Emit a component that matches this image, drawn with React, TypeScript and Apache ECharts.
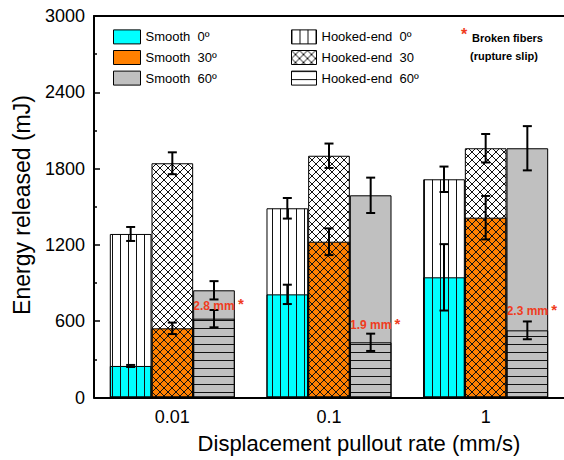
import React, { useEffect, useRef } from "react";
import * as echarts from "echarts";

const categories = ["0.01", "0.1", "1"];
const smoothNames = ["Smooth  0º", "Smooth  30º", "Smooth  60º"];
const hookedNames = ["Hooked-end  0º", "Hooked-end  30", "Hooked-end  60º"];

const smooth0 = [248, 811, 945];
const smooth0Err = [8, 76, 261];
const smooth30 = [544, 1225, 1414];
const smooth30Err = [45, 105, 171];
const smooth60 = [843, 1590, 1960];
const smooth60Err = [72, 139, 174];

const hooked0 = [1286, 1488, 1716];
const hooked0Err = [55, 81, 100];
const hooked30 = [1842, 1901, 1960];
const hooked30Err = [86, 96, 112];
const hooked60 = [620, 434, 528];
const hooked60Err = [68, 68, 70];

const slipLabels = ["2.8 mm", "1.9 mm", "2.3 mm"];
const slipLabelValue = [722, 570, 678];

const yMin = 0;
const yMax = 3000;
const yInterval = 600;

const FONT = "Liberation Sans, Arial, sans-serif";
const RED = "#f03c1e";
const BAR_RATIO = 0.266;

function makePattern(kind: string) {
  const c = document.createElement("canvas");
  const s = 8;
  c.width = s;
  c.height = s;
  const ctx = c.getContext("2d")!;
  ctx.strokeStyle = "#111";
  ctx.lineWidth = 1;
  ctx.beginPath();
  if (kind === "v") {
    ctx.moveTo(0.5, 0);
    ctx.lineTo(0.5, s);
  } else if (kind === "h") {
    ctx.moveTo(0, 0.5);
    ctx.lineTo(s, 0.5);
  } else {
    ctx.moveTo(-1, -1);
    ctx.lineTo(s + 1, s + 1);
    ctx.moveTo(s + 1, -1);
    ctx.lineTo(-1, s + 1);
  }
  ctx.stroke();
  return { image: c, repeat: "repeat" } as any;
}

export default function App() {
  const ref = useRef<HTMLDivElement>(null);
  useEffect(() => {
    if (!ref.current) return;
    const chart = echarts.init(ref.current, null, { renderer: "svg" });

    const smoothVals = [smooth0, smooth30, smooth60];
    const smoothErrs = [smooth0Err, smooth30Err, smooth60Err];
    const hookedVals = [hooked0, hooked30, hooked60];
    const hookedErrs = [hooked0Err, hooked30Err, hooked60Err];
    const smoothColors = ["#00ffff", "#ff8000", "#c0c0c0"];
    const patterns = [makePattern("v"), makePattern("x"), makePattern("h")];

    const errData: number[][] = [];
    for (let k = 0; k < 3; k++) {
      for (let i = 0; i < categories.length; i++) {
        errData.push([i, smoothVals[k][i], smoothErrs[k][i], k]);
        errData.push([i, hookedVals[k][i], hookedErrs[k][i], k]);
      }
    }

    const barCommon = {
      type: "bar",
      barWidth: BAR_RATIO * 100 + "%",
      barGap: "0%",
      yAxisIndex: 0,
    };

    const series: any[] = [];
    for (let k = 0; k < 3; k++) {
      series.push({
        ...barCommon,
        name: smoothNames[k],
        xAxisIndex: 0,
        data: smoothVals[k],
        itemStyle: { color: smoothColors[k], borderColor: "#000", borderWidth: 1 },
      });
    }
    for (let k = 0; k < 3; k++) {
      series.push({
        ...barCommon,
        name: hookedNames[k],
        xAxisIndex: 1,
        data: hookedVals[k],
        itemStyle: { color: patterns[k], borderColor: "#000", borderWidth: 1 },
      });
    }
    series.push({
      type: "custom",
      xAxisIndex: 0,
      yAxisIndex: 0,
      z: 10,
      clip: false,
      data: errData,
      renderItem: (params: any, api: any) => {
        const cat = api.value(0);
        const v = api.value(1);
        const e = api.value(2);
        const slot = api.value(3);
        const band = api.size([1, 0])[0];
        const cx = api.coord([cat, v])[0] + (slot - 1) * band * BAR_RATIO;
        const yt = api.coord([cat, v + e])[1];
        const yb = api.coord([cat, v - e])[1];
        const hw = 4.5;
        const st = { stroke: "#000", lineWidth: 2 };
        return {
          type: "group",
          children: [
            { type: "line", shape: { x1: cx, y1: yt, x2: cx, y2: yb }, style: st },
            { type: "line", shape: { x1: cx - hw, y1: yt, x2: cx + hw, y2: yt }, style: st },
            { type: "line", shape: { x1: cx - hw, y1: yb, x2: cx + hw, y2: yb }, style: st },
          ],
        };
      },
    });
    series.push({
      type: "custom",
      xAxisIndex: 0,
      yAxisIndex: 0,
      z: 11,
      clip: false,
      data: categories.map((_, i) => [i, slipLabelValue[i]]),
      renderItem: (params: any, api: any) => {
        const cat = api.value(0);
        const v = api.value(1);
        const band = api.size([1, 0])[0];
        const pt = api.coord([cat, v]);
        const cx = pt[0] + band * BAR_RATIO;
        const right = cx + (band * BAR_RATIO) / 2;
        return {
          type: "group",
          children: [
            {
              type: "text",
              x: cx,
              y: pt[1],
              style: {
                text: slipLabels[params.dataIndex],
                fill: RED,
                font: "bold 12px " + FONT,
                align: "center",
                verticalAlign: "middle",
              },
            },
            {
              type: "text",
              x: right + 6,
              y: pt[1] - 2,
              style: {
                text: "*",
                fill: RED,
                font: "bold 15px " + FONT,
                align: "center",
                verticalAlign: "middle",
              },
            },
          ],
        };
      },
    });

    const legendCommon = {
      orient: "vertical",
      top: 24.4,
      itemHeight: 14,
      itemGap: 5.6,
      icon: "rect",
      selectedMode: false,
      itemStyle: { borderColor: "#000", borderWidth: 1 },
      textStyle: { fontSize: 13, fontFamily: FONT, color: "#000" },
    };

    chart.setOption({
      animation: false,
      textStyle: { fontFamily: FONT },
      grid: { left: 94, top: 16, right: -4, bottom: 62.5, containLabel: false },
      legend: [
        { ...legendCommon, left: 108, itemWidth: 27, data: smoothNames },
        { ...legendCommon, left: 286, itemWidth: 25, data: hookedNames },
      ],
      xAxis: [
        {
          type: "category",
          data: categories,
          position: "bottom",
          axisLine: { lineStyle: { color: "#000", width: 2 } },
          axisTick: { inside: true, alignWithLabel: true, length: 5, lineStyle: { color: "#000", width: 1.5 } },
          axisLabel: { fontSize: 18, color: "#000", fontFamily: FONT, margin: 10 },
          splitLine: { show: false },
        },
        {
          type: "category",
          data: categories,
          position: "top",
          axisLine: { lineStyle: { color: "#000", width: 2 } },
          axisTick: { show: false },
          axisLabel: { show: false },
          splitLine: { show: false },
        },
      ],
      yAxis: {
        type: "value",
        min: yMin,
        max: yMax,
        interval: yInterval,
        axisLine: { show: true, lineStyle: { color: "#000", width: 2 } },
        axisTick: { show: true, inside: true, length: 6, lineStyle: { color: "#000", width: 1.5 } },
        minorTick: { show: true, splitNumber: 2, length: 3, lineStyle: { color: "#000", width: 1.5 } },
        axisLabel: {
          fontSize: 18,
          color: "#000",
          fontFamily: FONT,
          margin: 9,
          formatter: (v: number) => String(v),
        },
        splitLine: { show: false },
      },
      graphic: [
        {
          type: "text",
          x: 22,
          y: 205,
          rotation: Math.PI / 2,
          style: {
            text: "Energy released (mJ)",
            font: "23px " + FONT,
            fill: "#000",
            align: "center",
            verticalAlign: "middle",
          },
        },
        {
          type: "text",
          x: 359,
          y: 443,
          style: {
            text: "Displacement pullout rate (mm/s)",
            font: "22px " + FONT,
            fill: "#000",
            align: "center",
            verticalAlign: "middle",
          },
        },
        {
          type: "text",
          x: 464,
          y: 34,
          style: { text: "*", font: "bold 16px " + FONT, fill: RED, align: "center", verticalAlign: "middle" },
        },
        {
          type: "text",
          x: 472,
          y: 38,
          style: { text: "Broken fibers", font: "bold 11px " + FONT, fill: "#000", align: "left", verticalAlign: "middle" },
        },
        {
          type: "text",
          x: 470,
          y: 56,
          style: { text: "(rupture slip)", font: "bold 11px " + FONT, fill: "#000", align: "left", verticalAlign: "middle" },
        },
      ],
      series,
    });
    return () => chart.dispose();
  }, []);
  return (
    <div
      ref={ref}
      style={{ position: "absolute", left: 0, top: 0, width: 564, height: 460, background: "#fff" }}
    />
  );
}
